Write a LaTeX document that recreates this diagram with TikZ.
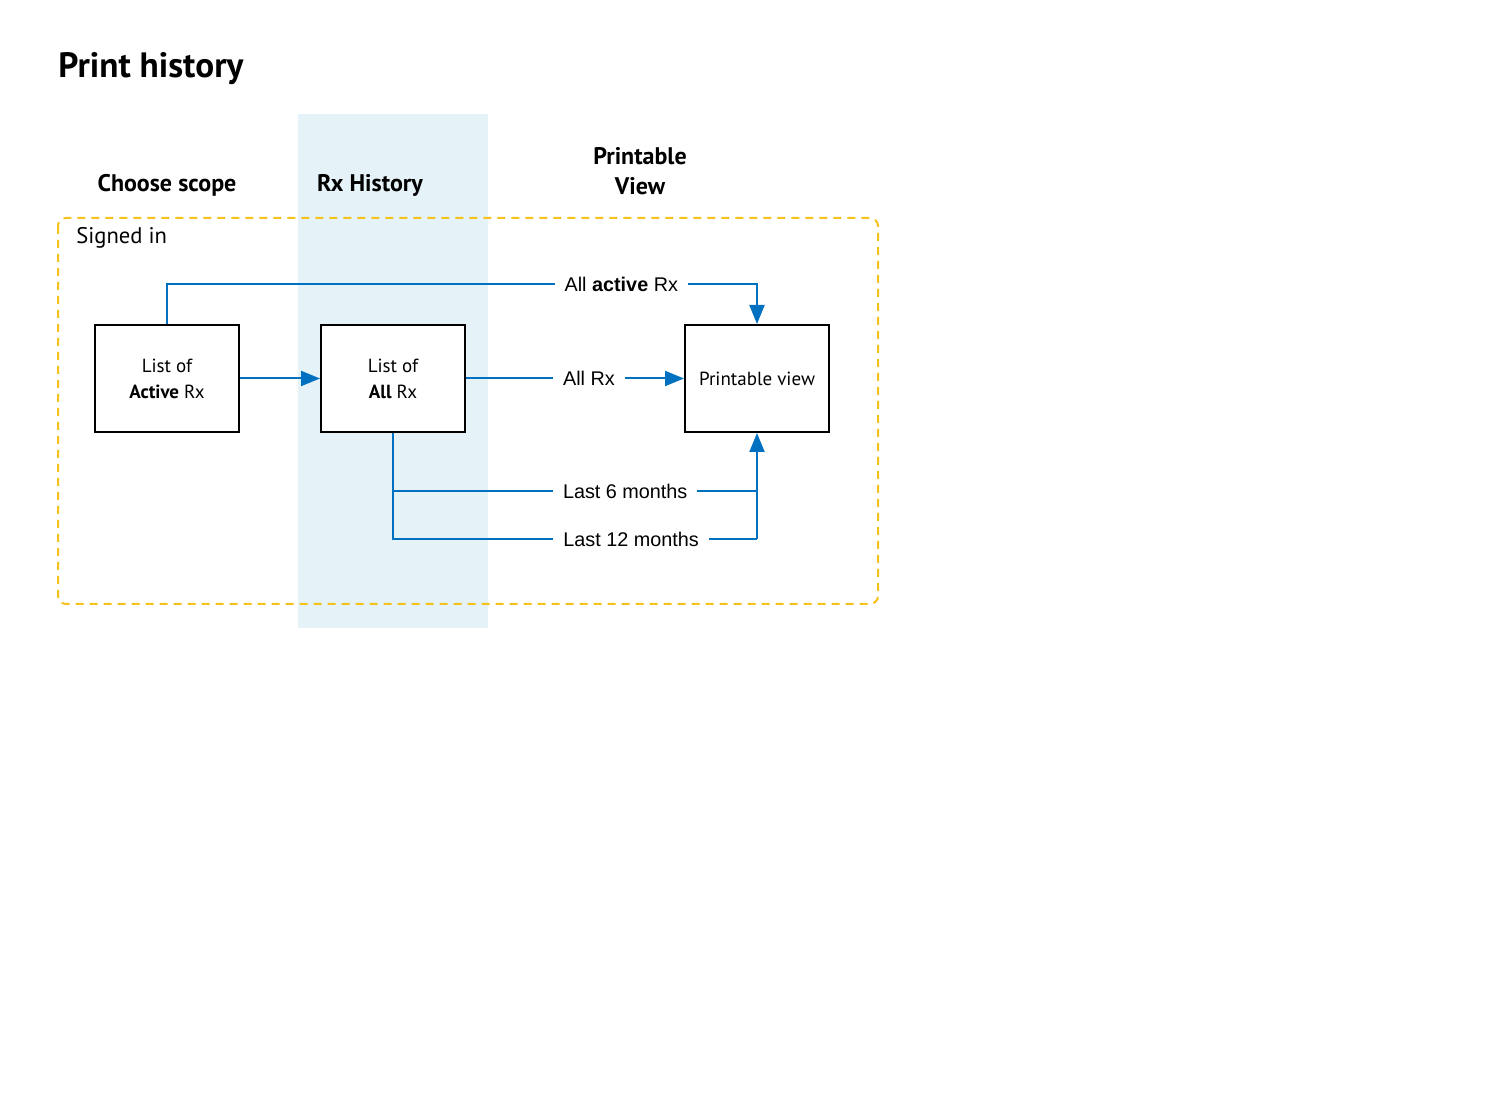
\documentclass[tikz,border=0pt]{standalone}
\usepackage{fontspec}
\setmainfont{PT Sans}
\newfontfamily\labelfont{Liberation Sans}
\usetikzlibrary{arrows.meta}
\usetikzlibrary{positioning}

\definecolor{flowblue}{HTML}{0070C0}
\definecolor{bandblue}{HTML}{E5F3F8}
\definecolor{scopegold}{HTML}{F5C21B}

\begin{document}
\begin{tikzpicture}[x=0.5pt, y=-0.5pt,
    screen/.style={draw, fill=white, line width=1pt, minimum width=72pt, minimum height=53.5pt, align=center, font=\fontsize{9.5}{13}\selectfont},
    flow/.style={draw=flowblue, line width=1pt},
    flowtip/.style={-{Triangle[length=9.5pt, width=7.5pt]}},
    flowlabel/.style={fill=white, inner xsep=5pt, font=\labelfont\fontsize{9.9}{11}\selectfont},
    colhead/.style={font=\bfseries\fontsize{12}{15}\selectfont, align=center}]
      \useasboundingbox (0,0) rectangle (1512,1106);

      \fill[bandblue] (298,114) rectangle (488,628);
      \draw[scopegold, line width=1pt, dash pattern=on 4pt off 3pt, rounded corners=4pt] (58,218) rectangle (878,604);

      \node[anchor=west, inner sep=0pt, font=\bfseries\fontsize{17.6}{20}\selectfont] (title) at (58,69) {Print history};
      \node[colhead] (scopehead) at (167,185) {Choose scope};
      \node[colhead] (historyhead) at (370,185) {Rx History};
      \node[colhead] (printhead) at (640,171) {Printable\\View};
      \node[anchor=west, inner sep=0pt, font=\fontsize{11.3}{13}\selectfont] (signedin) at (76,238) {Signed in};

      \node[screen] (active) at (167,378.5) {List of\\\textbf{Active} Rx};
      \node[screen] (all) at (393,378.5) {List of\\\textbf{All} Rx};
      \node[screen] (print) at (757,378.5) {Printable view};

      \coordinate (sixjoin) at (757,491);
      \coordinate (twelvejoin) at (757,539);

      \draw[flow, flowtip] (active) -- (all);
      \draw[flow, flowtip] (active.north) -- ++(0,-40) -| node[flowlabel, pos=0.385] (activelabel) {All \textbf{active} Rx} (print.north);
      \draw[flow, flowtip] (all) -- node[flowlabel, pos=0.564] (alllabel) {All Rx} (print);
      \draw[flow] (all.south) |- node[flowlabel, pos=0.819] (sixlabel) {Last 6 months} (sixjoin);
      \draw[flow] (all.south) |- node[flowlabel, pos=0.827] (twelvelabel) {Last 12 months} (twelvejoin);
      \draw[flow, flowtip] (twelvejoin) -- (print.south);
    \end{tikzpicture}
\end{document}
